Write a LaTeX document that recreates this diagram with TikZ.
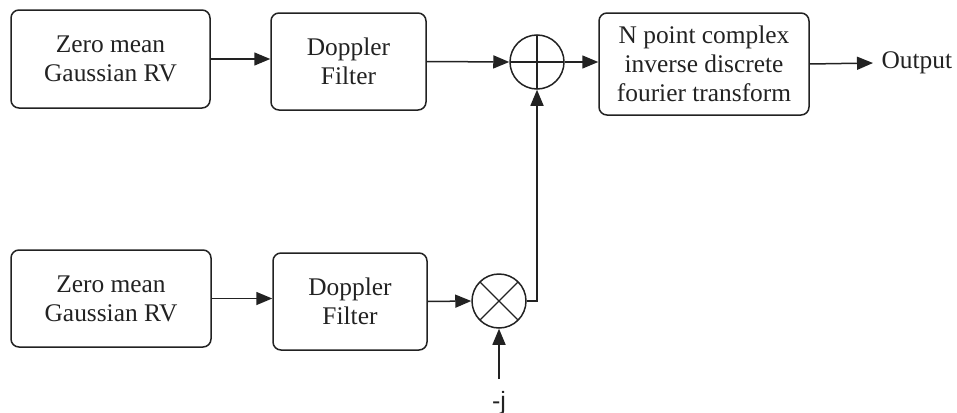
\documentclass[tikz,border=0pt]{standalone}
\usepackage{fontspec}
\setmainfont{Liberation Serif}
\newfontfamily\labelsans{Liberation Sans}
\usetikzlibrary{arrows.meta,calc}

\definecolor{ink}{HTML}{222222}

\tikzset{
  blockbox/.style={draw=ink, line width=0.75pt, rounded corners=4pt,
    align=center, inner sep=0pt, text=ink,
    font=\fontsize{12.7pt}{14.5pt}\selectfont},
  junction/.style={draw=ink, line width=0.75pt, circle, minimum size=27pt, inner sep=0pt},
  sumjunction/.style={junction, path picture={
      \draw[ink, line width=0.65pt] (path picture bounding box.north) -- (path picture bounding box.south)
        (path picture bounding box.west) -- (path picture bounding box.east);}},
  muljunction/.style={junction, path picture={
      \draw[ink, line width=0.65pt] (path picture bounding box.north west) -- (path picture bounding box.south east)
        (path picture bounding box.north east) -- (path picture bounding box.south west);}},
  flow/.style={draw=ink, line width=0.75pt, -{Triangle[length=8pt, width=6.5pt]}}
}

\begin{document}
\begin{tikzpicture}[x=0.5pt, y=-0.5pt]
  \useasboundingbox (0,0) rectangle (957,412);

  % upper branch
  \node[blockbox, minimum width=99.5pt, minimum height=49pt] (rv1) at (110.5,59) {Zero mean\\Gaussian RV};
  \node[blockbox, minimum width=77.5pt, minimum height=48.5pt] (df1) at (348.5,61.5) {Doppler\\Filter};
  \node[sumjunction] (sum) at (537,62) {};
  \node[blockbox, minimum width=105pt, minimum height=51pt] (idft) at (704,64)
    {N point complex\\inverse discrete\\fourier transform};
  \node[anchor=west, text=ink, inner sep=4.1pt, font=\fontsize{12.7pt}{14.5pt}\selectfont] (out) at (873,63) {Output};

  % lower branch
  \node[blockbox, minimum width=100pt, minimum height=48.5pt] (rv2) at (111,298.5) {Zero mean\\Gaussian RV};
  \node[blockbox, minimum width=77pt, minimum height=48.5pt] (df2) at (350,301.5) {Doppler\\Filter};
  \node[muljunction] (mul) at (499,301) {};
  \coordinate (jin) at (499,379);
  \node[anchor=north, text=ink, inner sep=0pt, font=\labelsans\fontsize{12.5pt}{14pt}\selectfont] (jn) at (499,391) {-j};

  % connectors
  \draw[flow] (rv1.east) -- (rv1.east -| df1.west);
  \draw[flow] (df1.east) -- (sum.west);
  \draw[flow] (sum.east) -- (sum.east -| idft.west);
  \draw[flow] (idft.east) -- (out.west);
  \draw[flow] (rv2.east) -- (rv2.east -| df2.west);
  \draw[flow] (df2.east) -- (mul.west);
  \draw[flow] (mul.east) -| (sum.south);
  \draw[flow] (jin) -- (mul.south);
\end{tikzpicture}
\end{document}
